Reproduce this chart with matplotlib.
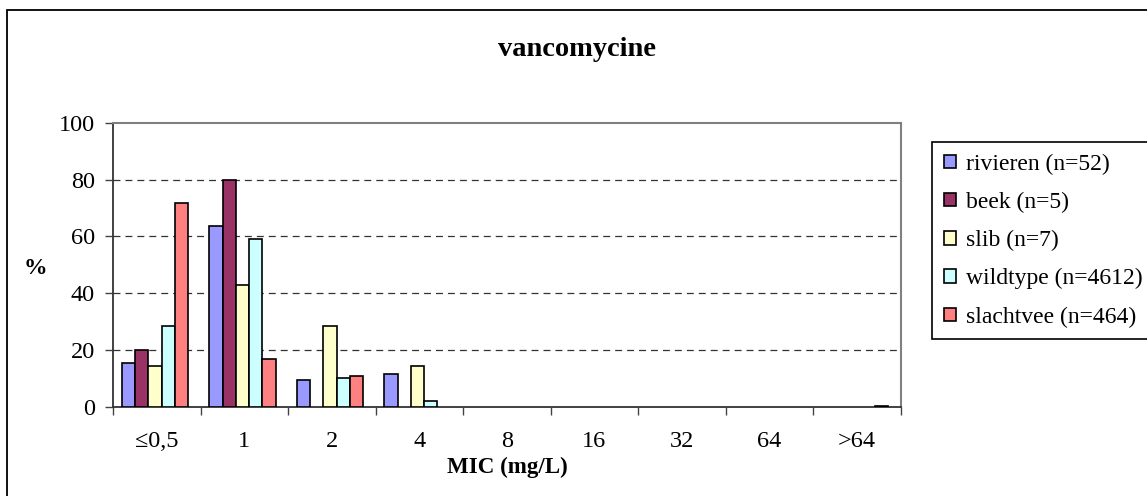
import matplotlib
matplotlib.use('Agg')
import matplotlib.pyplot as plt
from matplotlib.patches import Rectangle
import numpy as np

plt.rcParams['font.family'] = ['Liberation Serif', 'DejaVu Serif']
plt.rcParams['lines.scale_dashes'] = False

mic_labels = ['≤0,5', '1', '2', '4', '8', '16', '32', '64', '>64']

rivieren = [15.4, 63.5, 9.6, 11.5, 0, 0, 0, 0, 0]
beek = [20.0, 80.0, 0, 0, 0, 0, 0, 0, 0]
slib = [14.3, 42.9, 28.6, 14.3, 0, 0, 0, 0, 0]
wildtype = [28.5, 59.0, 10.1, 2.0, 0, 0, 0, 0, 0]
slachtvee = [71.6, 16.8, 10.8, 0, 0, 0, 0, 0, 0.4]

series = [
    ('rivieren (n=52)', rivieren, '#9999FF'),
    ('beek (n=5)', beek, '#993366'),
    ('slib (n=7)', slib, '#FFFFCC'),
    ('wildtype (n=4612)', wildtype, '#CCFFFF'),
    ('slachtvee (n=464)', slachtvee, '#FF8080'),
]

W, H = 1147, 496
fig = plt.figure(figsize=(W / 100, H / 100), dpi=100)
ax = fig.add_axes([113 / W, (H - 407) / H, (900.5 - 113) / W, (407 - 122.7) / H])

# chart border, running off the right and bottom edge
fig.add_artist(Rectangle((7 / W, -0.1), 1.2, (H - 10) / H + 0.1, transform=fig.transFigure,
                         fill=False, edgecolor='black', linewidth=1.3))

x = np.arange(len(mic_labels))
width = 0.152
for i, (label, values, color) in enumerate(series):
    # no outline on empty bars so they don't thicken the axis
    lw = [1.2 if v > 0 else 0 for v in values]
    ax.bar(x + (i - 2) * width - 0.02, values, width, color=color, edgecolor='black',
           linewidth=lw, label=label, zorder=3)

ax.set_xlim(-0.5, len(mic_labels) - 0.5)
ax.set_ylim(0, 100)
ax.set_yticks(range(0, 101, 20))
ax.set_xticks(x)
ax.set_xticklabels(mic_labels)
ax.set_xticks(np.arange(-0.5, len(mic_labels), 1), minor=True)
ax.tick_params(axis='x', which='major', length=0, pad=17, labelsize=17.5)
ax.tick_params(axis='x', which='minor', length=6, width=1, color='#444444', direction='out')
ax.tick_params(axis='y', length=6, width=1, color='#444444', labelsize=17.5, pad=7)

for v in [20, 40, 60, 80]:
    ax.axhline(v, color='#333333', linewidth=0.9, linestyle=(0, (5, 3.6)), zorder=1)

ax.spines['top'].set_color('#808080')
ax.spines['right'].set_color('#808080')
ax.spines['top'].set_linewidth(1.5)
ax.spines['right'].set_linewidth(1.5)
ax.spines['left'].set_color('#333333')
ax.spines['bottom'].set_color('#333333')
ax.spines['left'].set_linewidth(1.3)
ax.spines['bottom'].set_linewidth(1.3)

fig.text(577 / W, 1 - 50 / H, 'vancomycine', ha='center', va='center',
         fontsize=20.5, fontweight='bold')
fig.text(507 / W, 1 - 467 / H, 'MIC (mg/L)', ha='center', va='center',
         fontsize=16.6, fontweight='bold')
fig.text(35 / W, 1 - 268 / H, '%', ha='center', va='center',
         fontsize=17, fontweight='bold')

leg = ax.legend(loc='upper left', bbox_to_anchor=(932 / W, 1 - 142 / H),
                bbox_transform=fig.transFigure, fontsize=17, frameon=True,
                fancybox=False, edgecolor='black', framealpha=1,
                handlelength=0.5, handleheight=0.5, handletextpad=0.42,
                labelspacing=0.72, borderpad=0.5, borderaxespad=0)
leg.get_frame().set_linewidth(1.2)

fig.savefig('out.png', dpi=100)
